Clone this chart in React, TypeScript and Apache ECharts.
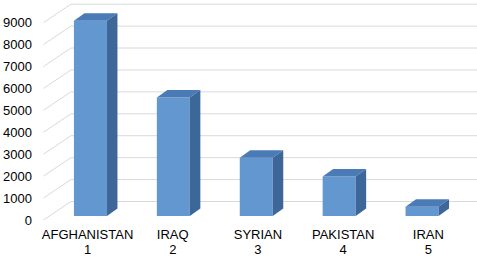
import React, { useEffect, useRef } from "react";
import * as echarts from "echarts";

const countries = ["AFGHANISTAN", "IRAQ", "SYRIAN", "PAKISTAN", "IRAN"];
const ranks = ["1", "2", "3", "4", "5"];
const values = [8900, 5400, 2650, 1800, 420];
const yTicks = [0, 1000, 2000, 3000, 4000, 5000, 6000, 7000, 8000, 9000];

const FONT = "'Liberation Sans', Arial, Helvetica, sans-serif";
const FRONT = "#6397d0";
const TOP = "#4b7bb6";
const SIDE = "#3d6798";
const GRID = "#d9d9d9";

export default function App() {
  const ref = useRef<HTMLDivElement>(null);
  useEffect(() => {
    document.body.style.margin = "0";
    const chart = echarts.init(ref.current!, undefined, { renderer: "svg" });
    const labels = countries.map((c, i) => c + "\n" + ranks[i]);
    const DX = 27.5;
    const DY = 18.5;
    const BDX = 10.5;
    const BDY = 7.5;
    const BW = 33;
    chart.setOption({
      animation: false,
      backgroundColor: "#ffffff",
      grid: [
        { left: 42, right: 6, top: 22.7, bottom: 38 },
        { left: 49, width: 414.5, top: 18.5, bottom: 42 },
      ],
      xAxis: [
        {
          type: "category",
          gridIndex: 0,
          data: labels,
          axisLine: { show: false },
          axisTick: { show: false },
          axisLabel: {
            margin: 7,
            fontSize: 13,
            lineHeight: 15,
            color: "#000",
            fontFamily: FONT,
            interval: 0,
          },
        },
        {
          type: "category",
          gridIndex: 1,
          data: countries,
          show: false,
        },
      ],
      yAxis: [
        {
          type: "value",
          gridIndex: 0,
          min: 0,
          max: 9000,
          interval: 1000,
          axisLine: { show: false },
          axisTick: { show: false },
          splitLine: { show: false },
          axisLabel: {
            margin: 13,
            fontSize: 13,
            color: "#000",
            fontFamily: FONT,
            formatter: (v: number) => String(v),
          },
        },
        {
          type: "value",
          gridIndex: 1,
          min: 0,
          max: 9000,
          show: false,
          splitLine: { show: false },
        },
      ],
      series: [
        {
          type: "custom",
          xAxisIndex: 0,
          yAxisIndex: 0,
          z: 1,
          silent: true,
          data: yTicks.map((v) => [0, v]),
          renderItem: (params: any, api: any) => {
            const cs = params.coordSys;
            const y = api.coord([0, api.value(1)])[1];
            const x0 = cs.x - 1.5;
            return {
              type: "polyline",
              shape: {
                points: [
                  [x0, y],
                  [x0 + DX, y - DY],
                  [477, y - DY],
                ],
              },
              style: { stroke: GRID, lineWidth: 1, fill: "none" },
            };
          },
        },
        {
          type: "custom",
          xAxisIndex: 1,
          yAxisIndex: 1,
          z: 2,
          data: values.map((v, i) => [i, v]),
          renderItem: (params: any, api: any) => {
            const i = api.value(0);
            const v = api.value(1);
            const t = api.coord([i, v]);
            const b = api.coord([i, 0]);
            const x0 = t[0] - BW / 2;
            const x1 = t[0] + BW / 2;
            const ty = t[1];
            const by = b[1];
            return {
              type: "group",
              children: [
                {
                  type: "polygon",
                  shape: { points: [[x0, ty], [x1, ty], [x1, by], [x0, by]] },
                  style: { fill: FRONT },
                },
                {
                  type: "polygon",
                  shape: {
                    points: [
                      [x0, ty],
                      [x0 + BDX, ty - BDY],
                      [x1 + BDX, ty - BDY],
                      [x1, ty],
                    ],
                  },
                  style: { fill: TOP },
                },
                {
                  type: "polygon",
                  shape: {
                    points: [
                      [x1, ty],
                      [x1 + BDX, ty - BDY],
                      [x1 + BDX, by - BDY],
                      [x1, by],
                    ],
                  },
                  style: { fill: SIDE },
                },
              ],
            };
          },
        },
      ],
    });
    return () => chart.dispose();
  }, []);
  return (
    <div
      ref={ref}
      style={{ position: "fixed", left: 0, top: 0, width: 477, height: 258 }}
    />
  );
}
